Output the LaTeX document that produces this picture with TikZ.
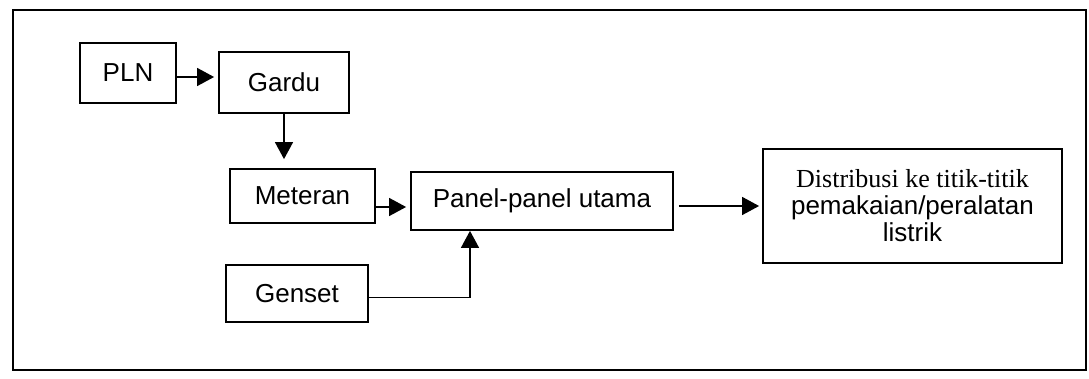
\documentclass[tikz,border=0pt]{standalone}
\usepackage{fontspec}
\setmainfont{Liberation Sans}
\newfontfamily\timesfont{Liberation Serif}
\usetikzlibrary{arrows.meta}
\begin{document}
\begin{tikzpicture}[x=0.5pt,y=-0.5pt,
  box/.style={draw, line width=0.9pt, inner sep=0pt, align=center,
    font=\fontsize{13}{13.5}\selectfont},
  arr/.style={line width=0.7pt, -{Triangle[length=8.5pt,width=9pt]}}]
\useasboundingbox (0,0) rectangle (1089,379);
\draw[line width=0.9pt] (13,10) rectangle (1086,370);
\node[box, minimum width=48pt, minimum height=30pt] (pln) at (128,73) {PLN};
\node[box, minimum width=65pt, minimum height=30.5pt] (gar) at (284,82.5) {Gardu};
\node[box, minimum width=72.5pt, minimum height=27pt] (met) at (302.5,196) {Meteran};
\node[box, minimum width=131pt, minimum height=29pt] (pan) at (542,201) {Panel-panel utama};
\node[box, minimum width=71pt, minimum height=28.5pt] (gen) at (297,293.5) {Genset};
\node[box, minimum width=149.5pt, minimum height=57pt] (dis) at (912.5,206)
  {{\timesfont Distribusi ke titik-titik}\\pemakaian/peralatan\\listrik};
\draw[arr, shorten >=2pt] ([yshift=-2pt]pln.east) -- ([yshift=-2pt]pln.east -| gar.west);
\draw[arr, shorten >=4.5pt] (gar.south) -- (gar.south |- met.north);
\draw[arr, shorten >=2pt] ([yshift=-5.5pt]met.east) -- ([yshift=-5.5pt]met.east -| pan.west);
\draw[arr, shorten <=2.5pt, shorten >=1.5pt] (pan.east |- dis.west) -- (dis.west);
\coordinate (gp) at ([xshift=-36pt]pan.south);
\draw[arr] ([yshift=-2pt]gen.east) -| (gp);
\end{tikzpicture}
\end{document}
